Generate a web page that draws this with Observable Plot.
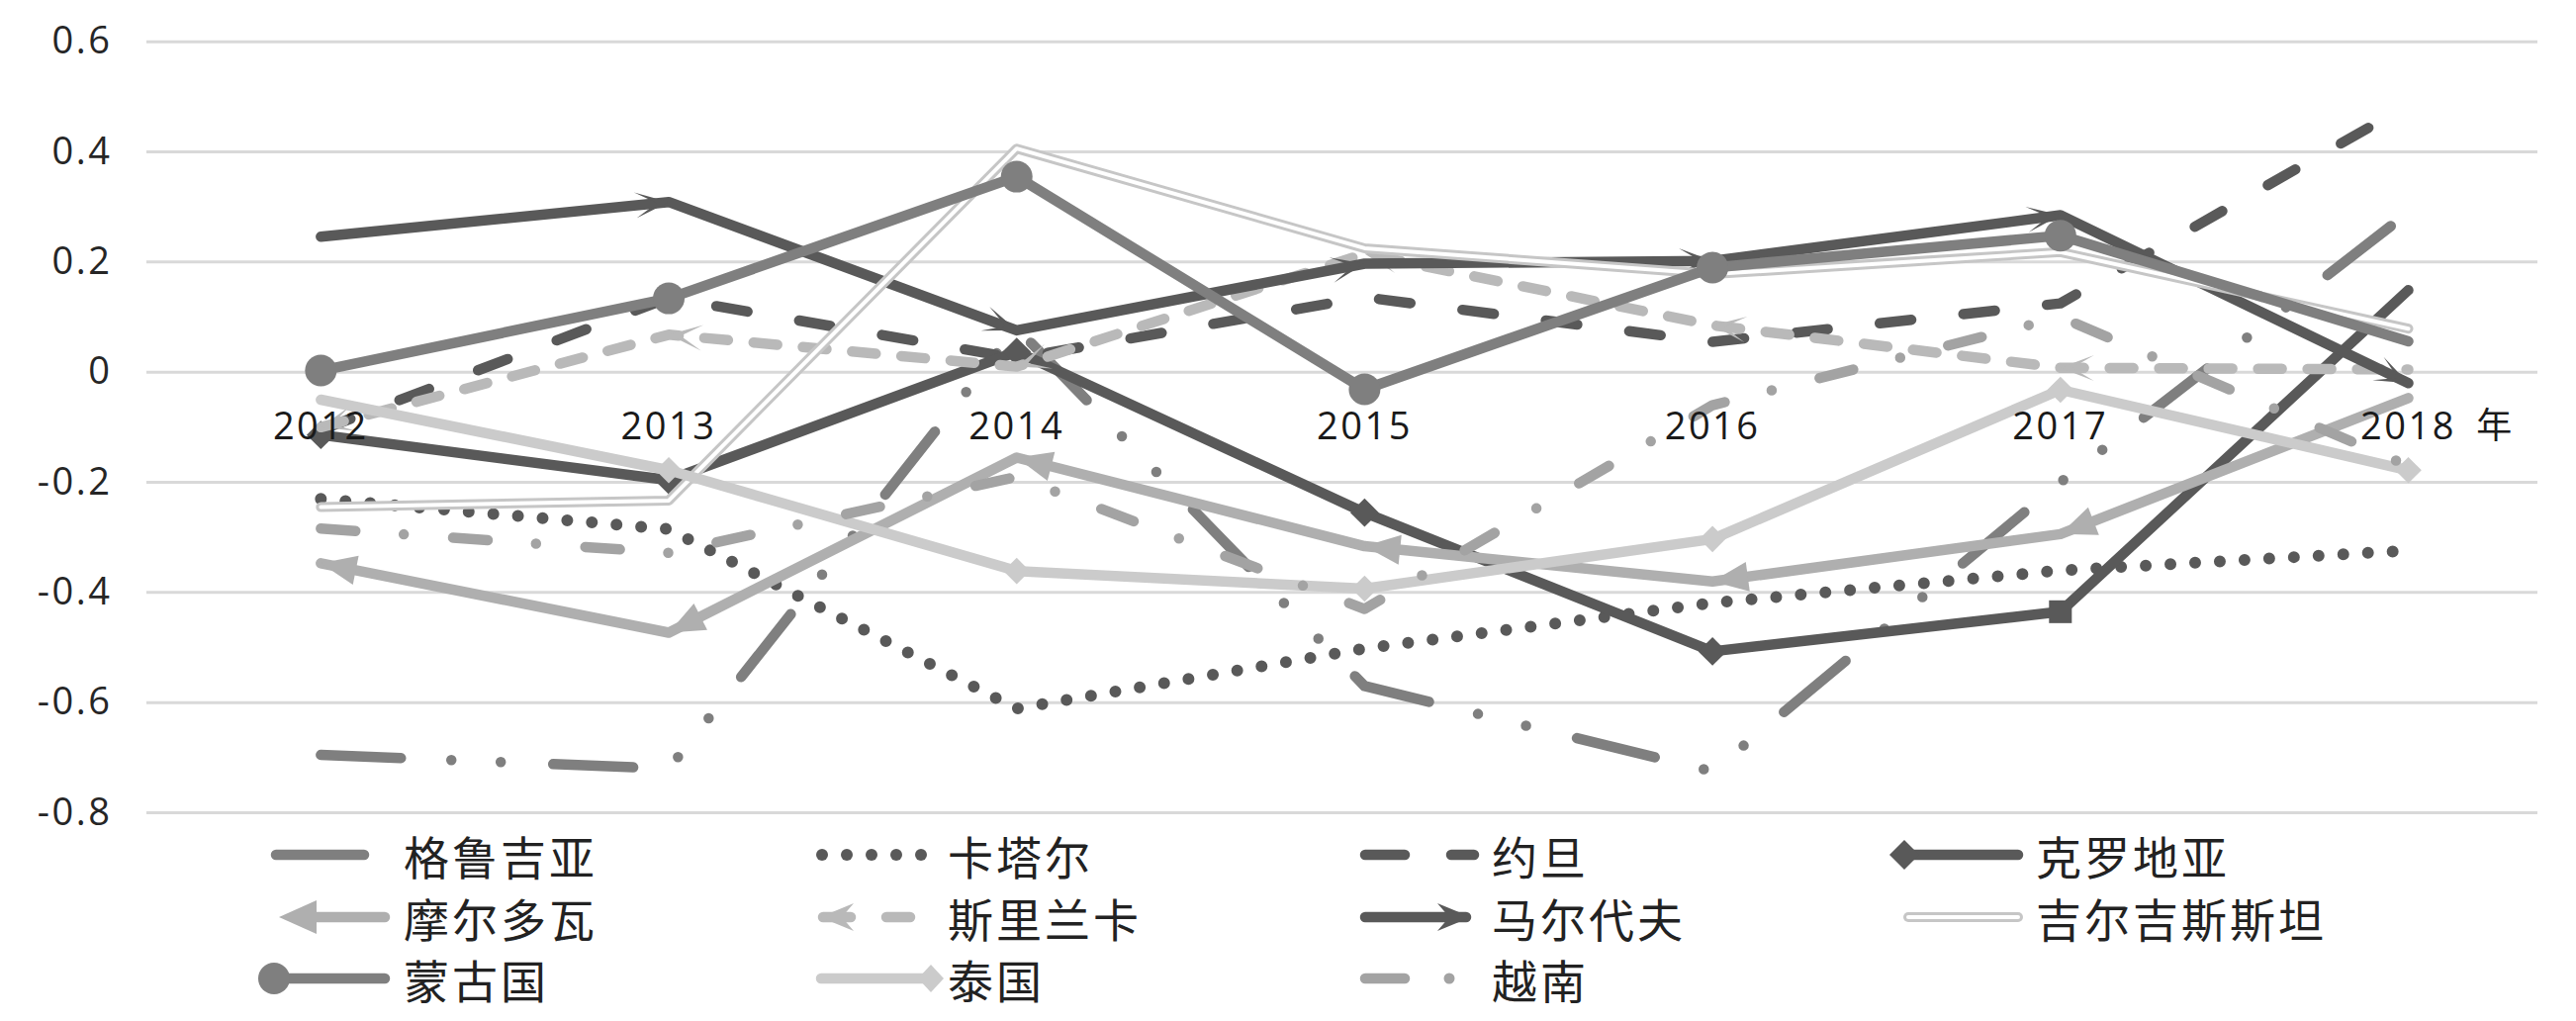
<!DOCTYPE html>
<html>
<head>
<meta charset="utf-8">
<script src="https://cdn.jsdelivr.net/npm/d3@7"></script>
<script src="https://cdn.jsdelivr.net/npm/@observablehq/plot@0.6"></script>
<style>
  body { margin: 0; background: #fff; }
  #wrap { position: relative; width: 2604px; height: 1032px; background: #fff; overflow: hidden; }
  #legend { position: absolute; left: 0; top: 833px; width: 2604px; height: 199px; }
  .item { position: absolute; height: 62px; display: flex; align-items: center; }
  .item svg { display: block; flex: none; }
  .item span { font-family: "Noto Sans CJK SC"; font-size: 46px; letter-spacing: 3px; color: #222; line-height: 1; white-space: nowrap; }
</style>
</head>
<body>
<div id="wrap"><div id="chart"></div><div id="legend"></div></div>
<script>
// ---------- data ----------
const years = [2012, 2013, 2014, 2015, 2016, 2017, 2018];
const yTicks = [0.6, 0.4, 0.2, 0, -0.2, -0.4, -0.6, -0.8];
const yearUnit = "年";
const seriesNames = ["格鲁吉亚", "卡塔尔", "约旦", "克罗地亚", "摩尔多瓦", "斯里兰卡", "马尔代夫", "吉尔吉斯斯坦", "蒙古国", "泰国", "越南"];

const georgia    = [-0.695, -0.72, 0.08, -0.57, -0.725, -0.2, 0.29];
const qatar      = [-0.23, -0.285, -0.611, -0.502, -0.419, -0.36, -0.324];
const jordan     = [-0.105, 0.135, 0.025, 0.136, 0.055, 0.125, 0.485];
const croatia    = [-0.114, -0.196, 0.037, -0.255, -0.507, -0.435, 0.149];
const moldova    = [-0.347, -0.473, -0.155, -0.316, -0.38, -0.294, -0.047];
const sriLanka   = [-0.10, 0.068, 0.01, 0.215, 0.085, 0.008, 0.005];
const maldives   = [0.246, 0.309, 0.076, 0.197, 0.202, 0.285, -0.02];
const kyrgyzstan = [-0.245, -0.233, 0.406, 0.225, 0.178, 0.218, 0.079];
const mongolia   = [0.003, 0.134, 0.355, -0.031, 0.19, 0.248, 0.056];
const thailand   = [-0.05, -0.178, -0.361, -0.393, -0.303, -0.032, -0.178];
const vietnam    = [-0.284, -0.328, -0.19, -0.43, -0.06, 0.10, -0.17];

// ---------- layout ----------
const width = 2604, height = 845;
const marginLeft = 148, marginRight = 39, marginTop = 41.7, marginBottom = 24;
const xDomain = [2011.5, 2018.3725];
const yDomain = [-0.8, 0.6];

const DARK = "#595959", MID = "#7f7f7f";
const C = {
  georgia: MID, qatar: DARK, jordan: DARK, croatia: DARK, moldova: "#afafaf",
  sriLanka: "#b9b9b9", maldives: DARK, kyrgyzstan: "#c6c6c6", mongolia: MID,
  thailand: "#cbcbcb", vietnam: "#a3a3a3"
};
const LW = 10.5;

const pts = vals => years.map((year, i) => ({year, value: vals[i]}));

const sx = Plot.scale({x: {type: "linear", domain: xDomain, range: [marginLeft, width - marginRight]}});
const sy = Plot.scale({y: {type: "linear", domain: yDomain, range: [height - marginBottom, marginTop]}});

// arrowheads: atEnd -> at the end vertex of each segment; else at its start vertex
function heads(vals, atEnd) {
  const out = [];
  for (let i = 0; i < years.length - 1; i++) {
    const a = {x: years[i], y: vals[i]}, b = {x: years[i + 1], y: vals[i + 1]};
    const [from, to] = atEnd ? [a, b] : [b, a];
    const dx = sx.apply(to.x) - sx.apply(from.x);
    const dy = sy.apply(to.y) - sy.apply(from.y);
    out.push({year: to.x, value: to.y, angle: Math.atan2(dx, -dy) * 180 / Math.PI});
  }
  return out;
}

const triShape = {draw(ctx, l) { ctx.moveTo(0, -l); ctx.lineTo(15, 0); ctx.lineTo(-15, 0); ctx.closePath(); }};
const stealthShape = {draw(ctx, l) { ctx.moveTo(0, -l); ctx.lineTo(13, 0); ctx.lineTo(0, -l + 12); ctx.lineTo(-13, 0); ctx.closePath(); }};

const lineOpts = (stroke, extra = {}) => ({x: "year", y: "value", stroke, strokeWidth: LW, strokeLinecap: "round", strokeLinejoin: "round", ...extra});

const marks = [
  Plot.ruleY(yTicks, {stroke: "#d9d9d9", strokeWidth: 3}),
  Plot.axisY(yTicks, {tickSize: 0, tickPadding: 35, tickFormat: d => String(d), fill: "#262626", fontSize: 38, label: null}),
  // 格鲁吉亚
  Plot.line(pts(georgia), lineOpts(C.georgia, {strokeDasharray: "81,51,0,50,0,53"})),
  // 卡塔尔
  Plot.line(pts(qatar), lineOpts(C.qatar, {strokeWidth: 12, strokeDasharray: "0,25"})),
  // 约旦
  Plot.line(pts(jordan), lineOpts(C.jordan, {strokeDasharray: "32,53"})),
  // 克罗地亚
  Plot.line(pts(croatia), lineOpts(C.croatia)),
  Plot.dot(pts(croatia).slice(0, 5), {x: "year", y: "value", symbol: "diamond2", r: 13, fill: C.croatia}),
  Plot.dot(pts(croatia).slice(5, 6), {x: "year", y: "value", symbol: "square", r: 13, fill: C.croatia}),
  // 摩尔多瓦
  Plot.line(pts(moldova), lineOpts(C.moldova)),
  Plot.vector(heads(moldova, false), {x: "year", y: "value", rotate: "angle", length: 36, anchor: "end", shape: triShape, fill: C.moldova, stroke: "none"}),
  // 斯里兰卡
  Plot.line(pts(sriLanka), lineOpts(C.sriLanka, {strokeDasharray: "24,26"})),
  Plot.vector(heads(sriLanka, false), {x: "year", y: "value", rotate: "angle", length: 34, anchor: "end", shape: stealthShape, fill: C.sriLanka, stroke: "none"}),
  // 马尔代夫
  Plot.line(pts(maldives), lineOpts(C.maldives)),
  Plot.vector(heads(maldives, true), {x: "year", y: "value", rotate: "angle", length: 34, anchor: "end", shape: stealthShape, fill: C.maldives, stroke: "none"}),
  // 吉尔吉斯斯坦
  Plot.line(pts(kyrgyzstan), lineOpts(C.kyrgyzstan, {strokeWidth: 10})),
  Plot.line(pts(kyrgyzstan), lineOpts("#ffffff", {strokeWidth: 4})),
  // 蒙古国
  Plot.line(pts(mongolia), lineOpts(C.mongolia)),
  Plot.dot(pts(mongolia).slice(0, 6), {x: "year", y: "value", r: 16, fill: C.mongolia}),
  // 泰国
  Plot.line(pts(thailand), lineOpts(C.thailand)),
  Plot.dot(pts(thailand).slice(1), {x: "year", y: "value", symbol: "diamond2", r: 12, fill: C.thailand}),
  // 越南
  Plot.line(pts(vietnam), lineOpts(C.vietnam, {strokeDasharray: "35,49,0,50"})),
  // category labels at the zero line
  Plot.text(years, {x: d => d, y: () => 0, text: d => String(d), dy: 56, fill: "#1a1a1a", fontSize: 38}),
  Plot.text([years[years.length - 1]], {x: d => d, y: () => 0, text: () => yearUnit, dy: 55, dx: 88, fill: "#1a1a1a", fontSize: 36, fontFamily: "Noto Sans CJK SC"})
];

const chart = Plot.plot({
  width, height, marginLeft, marginRight, marginTop, marginBottom,
  x: {type: "linear", domain: xDomain, axis: null},
  y: {type: "linear", domain: yDomain, label: null},
  style: {fontFamily: "Open Sans", fontSize: "38px", background: "white", overflow: "visible", letterSpacing: "2.5px"},
  marks
});
document.getElementById("chart").appendChild(chart);

// ---------- legend ----------
const sw = {
  "格鲁吉亚": (g) => { line(g, 21, 110, C.georgia, LW); },
  "卡塔尔": (g) => { [23, 48, 73, 98, 123].forEach(x => g.append("circle").attr("cx", x).attr("cy", 31).attr("r", 6).attr("fill", C.qatar)); },
  "约旦": (g) => { line(g, 22, 62, C.jordan, LW); line(g, 109, 132, C.jordan, LW); },
  "克罗地亚": (g) => { line(g, 22, 132, C.croatia, LW); g.append("path").attr("d", "M2,31L17,16L32,31L17,46Z").attr("fill", C.croatia); },
  "摩尔多瓦": (g) => { line(g, 50, 131, C.moldova, LW); g.append("path").attr("d", "M24,31L62,14L62,48Z").attr("fill", C.moldova); },
  "斯里兰卡": (g) => { line(g, 24, 52, C.sriLanka, LW); line(g, 88, 112, C.sriLanka, LW); g.append("path").attr("d", "M21,31L55,17L43,31L55,45Z").attr("fill", C.sriLanka); },
  "马尔代夫": (g) => { line(g, 22, 124, C.maldives, LW); g.append("path").attr("d", "M129,31L95,17L107,31L95,45Z").attr("fill", C.maldives); },
  "吉尔吉斯斯坦": (g) => { line(g, 21, 132, C.kyrgyzstan, 10); line(g, 21, 132, "#fff", 4); },
  "蒙古国": (g) => { line(g, 19, 131, C.mongolia, LW); g.append("circle").attr("cx", 19).attr("cy", 31).attr("r", 16).attr("fill", C.mongolia); },
  "泰国": (g) => { line(g, 22, 130, C.thailand, LW); g.append("path").attr("d", "M120,31L133,17L146,31L133,45Z").attr("fill", C.thailand); },
  "越南": (g) => { line(g, 22, 62, C.vietnam, LW); g.append("circle").attr("cx", 107).attr("cy", 31).attr("r", 5.5).attr("fill", C.vietnam); }
};
function line(g, x1, x2, color, w) {
  g.append("line").attr("x1", x1).attr("x2", x2).attr("y1", 31).attr("y2", 31)
    .attr("stroke", color).attr("stroke-width", w).attr("stroke-linecap", "round");
}
const legendCols = [258, 808, 1358, 1908];
const legend = d3.select("#legend");
seriesNames.forEach((name, i) => {
  const col = i % 4, row = Math.floor(i / 4);
  const item = legend.append("div").attr("class", "item")
    .style("left", legendCols[col] + "px").style("top", (row * 62.5) + "px");
  const svg = item.append("svg").attr("width", 150).attr("height", 62);
  sw[name](svg);
  item.append("span").text(name);
});
</script>
</body>
</html>
